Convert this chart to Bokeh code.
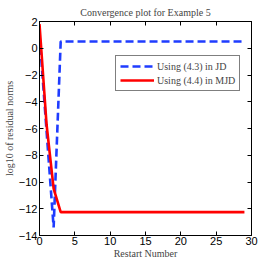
from bokeh.plotting import figure
from bokeh.models import LinearAxis, FixedTicker, Range1d, Legend, LegendItem
from bokeh.embed import file_html
from bokeh.resources import INLINE

restarts = list(range(0, 30))
jd_vals = [1.0, -6.2, -13.4, 0.5, 0.5, 0.5, 0.5, 0.5, 0.5, 0.5,
           0.5, 0.5, 0.5, 0.5, 0.5, 0.5, 0.5, 0.5, 0.5, 0.5,
           0.5, 0.5, 0.5, 0.5, 0.5, 0.5, 0.5, 0.5, 0.5, 0.5]
mjd_vals = [1.8, -5.7, -10.5, -12.25, -12.25, -12.25, -12.25, -12.25, -12.25, -12.25,
            -12.25, -12.25, -12.25, -12.25, -12.25, -12.25, -12.25, -12.25, -12.25, -12.25,
            -12.25, -12.25, -12.25, -12.25, -12.25, -12.25, -12.25, -12.25, -12.25, -12.25]
x_ticks = [0, 5, 10, 15, 20, 25, 30]
y_ticks = [-14, -12, -10, -8, -6, -4, -2, 0, 2]
labels = ["Using (4.3) in JD", "Using (4.4) in MJD"]

SERIF = "Liberation Serif"
SANS = "Liberation Sans"

p = figure(width=261, height=261, output_backend="svg", toolbar_location=None,
           x_range=Range1d(0, 30), y_range=Range1d(-14, 2),
           min_border_left=36, min_border_right=10, min_border_top=21, min_border_bottom=0,
           title="Convergence plot for Example 5")
p.title.align = "center"
p.title.text_font = SERIF
p.title.text_font_size = "10px"
p.title.text_font_style = "normal"
p.title.standoff = 8
p.title.offset = 0

p.xgrid.visible = False
p.ygrid.visible = False
p.outline_line_color = "black"
p.outline_line_width = 1
p.background_fill_color = "white"
p.border_fill_color = "white"

def style_axis(ax, show_labels=True):
    ax.major_tick_in = 4
    ax.major_tick_out = 0
    ax.minor_tick_line_color = None
    ax.axis_line_color = "black"
    ax.major_tick_line_color = "black"
    ax.major_label_text_font = SANS
    ax.major_label_text_font_size = "11px"
    ax.major_label_text_color = "black"
    ax.major_label_standoff = 2
    if not show_labels:
        ax.major_label_text_font_size = "0px"
        ax.major_label_text_color = None

xa = p.xaxis[0]
ya = p.yaxis[0]
xa.ticker = FixedTicker(ticks=x_ticks)
ya.ticker = FixedTicker(ticks=y_ticks)
style_axis(xa)
style_axis(ya)
xa.major_label_standoff = 1
xa.axis_label = "Restart Number"
ya.axis_label = "log10 of residual norms"
for ax in (xa, ya):
    ax.axis_label_text_font = SERIF
    ax.axis_label_text_font_size = "10px"
    ax.axis_label_text_font_style = "normal"
    ax.axis_label_standoff = 1
xa.axis_label_standoff = 0

xt = LinearAxis(ticker=FixedTicker(ticks=x_ticks))
style_axis(xt, False)
yr = LinearAxis(ticker=FixedTicker(ticks=y_ticks))
style_axis(yr, False)
p.add_layout(xt, "above")
p.add_layout(yr, "right")

r1 = p.line(restarts, jd_vals, line_color="#1f3cff", line_width=2.6, line_dash="8 4")
r2 = p.line(restarts, mjd_vals, line_color="#ff0000", line_width=2.6)

legend = Legend(items=[LegendItem(label=labels[0], renderers=[r1]),
                       LegendItem(label=labels[1], renderers=[r2])],
                location=(76, 144))
legend.border_line_color = "black"
legend.border_line_width = 1
legend.background_fill_color = "white"
legend.label_text_font = SERIF
legend.label_text_font_size = "10px"
legend.glyph_width = 34
legend.glyph_height = 12
legend.label_height = 12
legend.label_standoff = 3
legend.padding = 4
legend.spacing = 2
legend.margin = 0
p.add_layout(legend, "center")

open("out.html", "w").write(file_html(p, INLINE))
